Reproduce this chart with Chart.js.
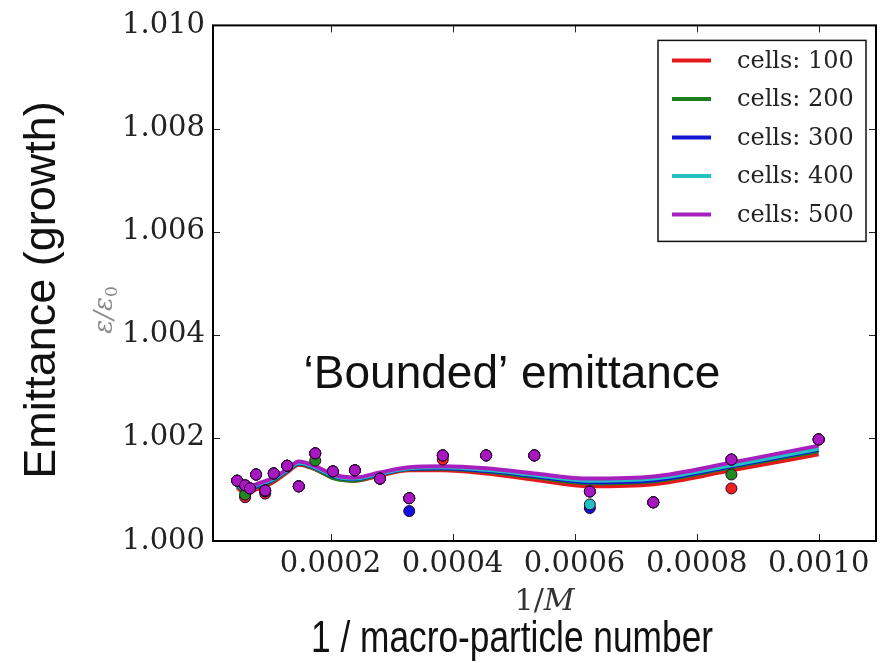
<!DOCTYPE html>
<html>
<head>
<meta charset="utf-8">
<script src="https://cdn.jsdelivr.net/npm/chart.js@4.4.1/dist/chart.umd.min.js"></script>
<style>
  html, body { margin: 0; background: #fff; }
  #wrap { width: 889px; height: 663px; }
</style>
</head>
<body>
<div id="wrap"><canvas id="chart" width="889" height="663"></canvas></div>
<script>
// 1/M positions of the runs
const invM = [0.000047, 0.000060, 0.000068, 0.000078, 0.000093, 0.000107, 0.000129, 0.000148, 0.000175, 0.000204,
              0.000240, 0.000281, 0.000329, 0.000384, 0.000455, 0.000534, 0.000625, 0.000729, 0.000857, 0.001000];

const cellLabels = ['cells: 100', 'cells: 200', 'cells: 300', 'cells: 400', 'cells: 500'];
const lineColors = ['#e3191c', '#1b7f1b', '#1414d4', '#22c2c2', '#a81fc0'];
const dotColors  = ['#ee2020', '#1f8a1f', '#1010e0', '#20c0c0', '#a818c0'];

// smoothed fits (one per cell count)
const fit100 = [1.00104, 1.00092, 1.00094, 1.00100, 1.00106, 1.00115, 1.00133, 1.00148, 1.00139, 1.00123,
                1.00117, 1.00127, 1.00137, 1.00137, 1.00131, 1.00119, 1.00106, 1.00110, 1.00137, 1.00168];
const fit200 = [1.00107, 1.00096, 1.00098, 1.00104, 1.00110, 1.00118, 1.00135, 1.00150, 1.00140, 1.00122,
                1.00117, 1.00129, 1.00139, 1.00140, 1.00135, 1.00124, 1.00112, 1.00116, 1.00143, 1.00174];
const fit300 = [1.00109, 1.00099, 1.00101, 1.00106, 1.00112, 1.00120, 1.00136, 1.00151, 1.00142, 1.00126,
                1.00120, 1.00130, 1.00140, 1.00141, 1.00136, 1.00126, 1.00114, 1.00118, 1.00145, 1.00177];
const fit400 = [1.00110, 1.00100, 1.00102, 1.00108, 1.00114, 1.00121, 1.00137, 1.00152, 1.00143, 1.00127,
                1.00121, 1.00131, 1.00141, 1.00143, 1.00138, 1.00128, 1.00117, 1.00121, 1.00147, 1.00179];
const fit500 = [1.00112, 1.00102, 1.00104, 1.00110, 1.00116, 1.00123, 1.00139, 1.00154, 1.00145, 1.00129,
                1.00123, 1.00133, 1.00143, 1.00145, 1.00141, 1.00131, 1.00121, 1.00125, 1.00152, 1.00185];

// measured points
const pts100 = [1.00117, 1.00085, 1.00102, 1.00129, 1.00092, 1.00131, 1.00146, 1.00106, 1.00170, 1.00135,
                1.00137, 1.00121, 1.00083, 1.00158, 1.00166, 1.00166, 1.00096, 1.00075, 1.00102, 1.00197];
const pts200 = [1.00117, 1.00090, 1.00102, 1.00129, 1.00096, 1.00131, 1.00146, 1.00106, 1.00156, 1.00135,
                1.00137, 1.00121, 1.00083, 1.00166, 1.00166, 1.00166, 1.00096, 1.00075, 1.00129, 1.00197];
const pts300 = [1.00117, 1.00108, 1.00102, 1.00129, 1.00098, 1.00131, 1.00146, 1.00106, 1.00170, 1.00135,
                1.00137, 1.00121, 1.00058, 1.00166, 1.00166, 1.00166, 1.00064, 1.00075, 1.00158, 1.00197];
const pts400 = [1.00117, 1.00108, 1.00102, 1.00129, 1.00098, 1.00131, 1.00146, 1.00106, 1.00170, 1.00135,
                1.00137, 1.00121, 1.00083, 1.00166, 1.00166, 1.00166, 1.00071, 1.00075, 1.00158, 1.00197];
const pts500 = [1.00117, 1.00108, 1.00102, 1.00129, 1.00098, 1.00131, 1.00146, 1.00106, 1.00170, 1.00135,
                1.00137, 1.00121, 1.00083, 1.00166, 1.00166, 1.00166, 1.00096, 1.00075, 1.00158, 1.00197];

const xTicks = [0.0002, 0.0004, 0.0006, 0.0008, 0.0010];
const yTicks = [1.000, 1.002, 1.004, 1.006, 1.008, 1.010];

const fits = [fit100, fit200, fit300, fit400, fit500];
const pts = [pts100, pts200, pts300, pts400, pts500];
const pair = ys => invM.map((x, i) => ({ x, y: ys[i] }));

const datasets = [];
// draw order: lines red..purple, then dots red..purple (higher order = drawn earlier)
fits.forEach((f, i) => datasets.push({
  type: 'line', label: cellLabels[i], data: pair(f), showLine: true,
  borderColor: lineColors[i], borderWidth: 4, pointRadius: 0,
  cubicInterpolationMode: 'monotone', fill: false, order: 20 - i
}));
pts.forEach((p, i) => datasets.push({
  type: 'scatter', label: cellLabels[i] + ' pts', data: pair(p), showLine: false,
  backgroundColor: dotColors[i], borderColor: '#2a0030', borderWidth: 1,
  pointRadius: 5.5, order: 10 - i
}));

const serif = '"DejaVu Serif", serif';

const decor = {
  id: 'decor',
  afterDatasetsDraw(chart) {
    const { ctx, chartArea: a, scales: { x, y } } = chart;
    ctx.save();
    ctx.strokeStyle = '#222';
    ctx.lineWidth = 1;
    ctx.beginPath();
    xTicks.forEach(v => {
      const px = Math.round(x.getPixelForValue(v)) + 0.5;
      ctx.moveTo(px, a.bottom); ctx.lineTo(px, a.bottom - 7);
      ctx.moveTo(px, a.top); ctx.lineTo(px, a.top + 7);
    });
    yTicks.forEach(v => {
      const py = Math.round(y.getPixelForValue(v)) + 0.5;
      ctx.moveTo(a.left, py); ctx.lineTo(a.left + 7, py);
      ctx.moveTo(a.right, py); ctx.lineTo(a.right - 7, py);
    });
    ctx.stroke();
    ctx.strokeStyle = '#000';
    ctx.lineWidth = 2;
    ctx.strokeRect(a.left, a.top, a.width, a.height);
    ctx.restore();
  },
  afterDraw(chart) {
    const { ctx, chartArea: a } = chart;
    ctx.save();

    // legend
    const lx = a.right - 218, ly = a.top + 15, lw = 208, lh = 201;
    ctx.fillStyle = '#fff';
    ctx.fillRect(lx, ly, lw, lh);
    ctx.strokeStyle = '#111';
    ctx.lineWidth = 1.5;
    ctx.strokeRect(lx, ly, lw, lh);
    ctx.font = '24px ' + serif;
    ctx.textBaseline = 'middle';
    ctx.textAlign = 'left';
    cellLabels.forEach((t, i) => {
      const ry = ly + 20 + i * 38.5;
      ctx.strokeStyle = lineColors[i];
      ctx.lineWidth = 4;
      ctx.beginPath(); ctx.moveTo(lx + 14, ry); ctx.lineTo(lx + 53, ry); ctx.stroke();
      ctx.fillStyle = '#222';
      ctx.fillText(t, lx + 79, ry + 1);
    });

    // big sans annotations
    ctx.fillStyle = '#111';
    ctx.textAlign = 'center';
    ctx.textBaseline = 'alphabetic';
    ctx.font = '46px "Liberation Sans", Arial, sans-serif';
    ctx.fillText('\u2018Bounded\u2019 emittance', 512, 388);
    ctx.font = '44px "Liberation Sans", Arial, sans-serif';
    ctx.fillText('1 / macro-particle number', 512, 652, 402);

    ctx.save();
    ctx.translate(55, 290);
    ctx.rotate(-Math.PI / 2);
    ctx.font = '45px "Liberation Sans", Arial, sans-serif';
    ctx.fillText('Emittance (growth)', 0, 0);
    ctx.restore();

    // small axis labels 1/M and eps/eps0
    ctx.fillStyle = '#333';
    ctx.textAlign = 'left';
    ctx.font = '30px ' + serif;
    const w1 = ctx.measureText('1/').width;
    ctx.font = 'italic 30px ' + serif;
    const w2 = ctx.measureText('M').width;
    const sx = (a.left + a.right) / 2 - (w1 + w2) / 2;
    ctx.font = '30px ' + serif;
    ctx.fillText('1/', sx, 610);
    ctx.font = 'italic 30px ' + serif;
    ctx.fillText('M', sx + w1, 610);

    ctx.save();
    ctx.translate(112, 310);
    ctx.rotate(-Math.PI / 2);
    ctx.fillStyle = '#8a8a8a';
    ctx.font = 'italic 26px ' + serif;
    const wa = ctx.measureText('\u03b5/\u03b5').width;
    ctx.font = '17px ' + serif;
    const wb = ctx.measureText('0').width;
    const ex = -(wa + wb) / 2;
    ctx.font = 'italic 26px ' + serif;
    ctx.fillText('\u03b5/\u03b5', ex, 0);
    ctx.font = '17px ' + serif;
    ctx.fillText('0', ex + wa, 5);
    ctx.restore();

    ctx.restore();
  }
};

new Chart(document.getElementById('chart'), {
  type: 'scatter',
  data: { datasets },
  options: {
    responsive: false,
    animation: false,
    layout: { padding: { top: 20, right: 13, left: 0, bottom: 0 } },
    plugins: { legend: { display: false }, tooltip: { enabled: false } },
    scales: {
      x: {
        type: 'linear', min: 0.0000074, max: 0.001094,
        grid: { display: false, drawTicks: false },
        border: { display: false },
        afterBuildTicks: s => { s.ticks = xTicks.map(v => ({ value: v })); },
        afterFit: s => { s.height = 122; },
        ticks: {
          padding: 6, color: '#222', maxRotation: 0, autoSkip: false,
          font: { family: 'DejaVu Serif', size: 29 },
          callback: v => v.toFixed(4)
        }
      },
      y: {
        type: 'linear', min: 1.0, max: 1.01,
        grid: { display: false, drawTicks: false },
        border: { display: false },
        afterBuildTicks: s => { s.ticks = yTicks.map(v => ({ value: v })); },
        afterFit: s => { s.width = 213; },
        ticks: {
          padding: 8, color: '#222', autoSkip: false,
          font: { family: 'DejaVu Serif', size: 29 },
          callback: v => v.toFixed(3)
        }
      }
    }
  },
  plugins: [decor]
});
</script>
</body>
</html>
